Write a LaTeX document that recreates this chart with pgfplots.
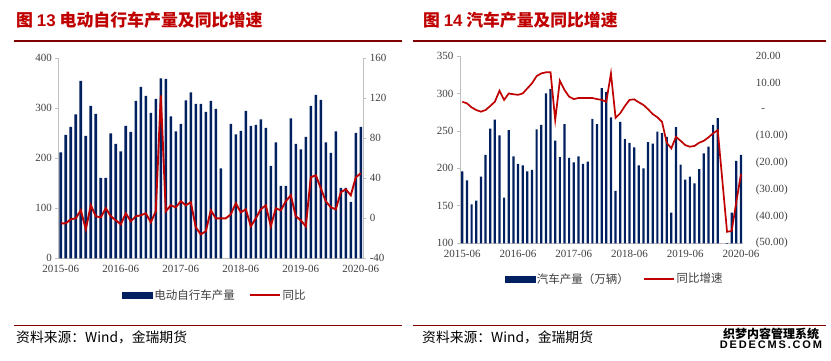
\documentclass[border=0pt]{standalone}
\usepackage{pgfplots}
\pgfplotsset{compat=1.18}
\usepackage{pgfplotstable}
\usepackage{fontspec}
\setmainfont{Liberation Serif}
\newfontfamily\cjk{Noto Sans CJK SC}
\newfontfamily\arial{Liberation Sans}
\definecolor{navy}{HTML}{002060}
\definecolor{lred}{HTML}{C00000}
\definecolor{rulered}{HTML}{800000}
\definecolor{axgray}{HTML}{BFBFBF}
\definecolor{txt}{HTML}{404040}

\pgfplotstableread{
x bar line
1 212 -5
2 247 -5
3 263 -1
4 288 0
5 355 8
6 245 -11
7 305 13
8 289 2
9 161 1
10 161 10
11 250 2
12 229 -2
13 214 -6
14 265 5
15 253 -3
16 315 2
17 343 3
18 325 5
19 291 -4
20 319 7
21 360 123
22 359 7
23 284 13
24 254 11
25 269 17
26 316 13
27 332 16
28 309 -9
29 309 -16
30 293 -13
31 315 8
32 299 0
33 180 0
34 nan 0
35 269 4
36 248 15
37 255 6
38 295 9
39 265 -8
40 267 0
41 278 9
42 261 13
43 185 -8
44 232 10
45 145 8
46 145 17
47 280 23
48 229 2
49 218 -2
50 243 -8
51 305 41
52 327 43
53 317 30
54 232 17
55 211 11
56 254 9
57 141 26
58 141 29
59 113 23
60 251 41
61 263 45
}\ebikedata

\pgfplotstableread{
x bar
1 196
2 184
3 152
4 157
5 189
6 218
7 253
8 265
9 244
10 161
11 251
12 216
13 206
14 204
15 196
16 198
17 252
18 258
19 300
20 306
21 237
22 215
23 259
24 214
25 208
26 216
27 206
28 209
29 266
30 259
31 307
32 302
33 268
34 170
35 262
36 239
37 234
38 228
39 204
40 200
41 235
42 233
43 249
44 247
45 242
46 141
47 255
48 205
49 185
50 189
51 180
52 199
53 220
54 229
55 258
56 267
57 nan
58 29
59 141
60 210
61 218
}\carbar

\pgfplotstableread{
x line
1 2.9
2 2.3
3 0.8
4 -0.2
5 -0.8
6 -0.2
7 1.3
8 2.9
9 7.0
10 3.6
11 6.0
12 5.7
13 5.5
14 6.0
15 7.9
16 9.8
17 12.5
18 13.5
19 13.9
20 13.9
21 -3.9
22 10.8
23 7.3
24 4.8
25 3.9
26 4.3
27 4.3
28 4.3
29 4.3
30 3.9
31 3.6
32 2.9
33 13.5
34 -3.1
35 -1.4
36 1.3
37 3.6
38 3.8
39 2.7
40 1.7
41 0.1
42 -1.7
43 -2.9
44 -4.6
45 -12.4
46 -14.5
47 -10.2
48 -11.7
49 -13.3
50 -13.9
51 -13.6
52 -12.4
53 -11.7
54 -10.4
55 -8.9
56 -7.7
58 -45.7
59 -45.4
60 -34.5
61 -24.1
}\carline

\pgfplotsset{
  panel/.style={
    scale only axis, anchor=south west,
    xmin=0.5, xmax=61.5,
    axis line style={axgray, line width=0.8pt},
    tick style={axgray, line width=0.8pt},
    tick align=outside, major tick length=3pt,
    tick label style={font=\fontsize{11}{12}\selectfont, text=txt},
    xtick={1,13,25,37,49,61},
    xticklabels={2015-06,2016-06,2017-06,2018-06,2019-06,2020-06},
    xtick style={draw=none},
  },
  legimg/.style={legend image code/.code={\draw[##1] (0pt,0pt) -- (30pt,0pt);}},
}

\begin{document}
\begin{tikzpicture}
\useasboundingbox (0pt,0pt) rectangle (831pt,-361pt);
\fill[white] (0pt,0pt) rectangle (831pt,-361pt);

% titles
\node[anchor=west, inner sep=0] at (16pt,-20pt) {\color{lred}\cjk\bfseries\fontsize{16.9}{18}\selectfont 图 {\arial\bfseries 13} 电动自行车产量及同比增速};
\node[anchor=west, inner sep=0] at (423pt,-20pt) {\color{lred}\cjk\bfseries\fontsize{16.8}{18}\selectfont 图 {\arial\bfseries 14} 汽车产量及同比增速};
\draw[rulered, line width=1.1pt] (14pt,-41pt) -- (402pt,-41pt);
\draw[rulered, line width=1.1pt] (413pt,-41pt) -- (826pt,-41pt);
\draw[rulered, line width=1.1pt] (14pt,-325.3pt) -- (402pt,-325.3pt);
\draw[rulered, line width=1.1pt] (413pt,-325.3pt) -- (826pt,-325.3pt);
\node[anchor=west, inner sep=0] at (16pt,-337.5pt) {\cjk\fontsize{13.8}{15}\selectfont 资料来源：Wind，金瑞期货};
\node[anchor=west, inner sep=0] at (422pt,-337.5pt) {\cjk\fontsize{13.8}{15}\selectfont 资料来源：Wind，金瑞期货};
\node[inner sep=0] at (771pt,-333.5pt) {\cjk\bfseries\fontsize{12}{13}\selectfont 织梦内容管理系统};
\node[inner sep=0] at (771pt,-345pt) {\arial\bfseries\fontsize{11}{12}\selectfont D\,E\,D\,E\,C\,M\,S\,.\,C\,O\,M};

% ---------- left panel ----------
\begin{axis}[panel, at={(58.3pt,-258.3pt)}, width=305pt, height=200pt,
  ymin=0, ymax=400, ytick={0,100,200,300,400},
  yticklabels={0,100,200,300,400},
  axis x line*=bottom, axis y line*=left, ybar, bar width=2.6pt]
\addplot[fill=navy, draw=none] table[x=x,y=bar]{\ebikedata};
\end{axis}
\begin{axis}[panel, at={(58.3pt,-258.3pt)}, width=305pt, height=200pt,
  ymin=-40, ymax=160, ytick={-40,0,40,80,120,160},
  yticklabels={-40,0,40,80,120,160},
  axis y line*=right, axis x line=none, legimg,
  legend style={at={(0.5,-0.185)}, anchor=center, xshift=4pt, draw=none, fill=none,
    font=\cjk\fontsize{11.5}{13}\selectfont, text=txt, legend columns=2,
    /tikz/every even column/.append style={column sep=12pt}}]
\addlegendimage{legend image code/.code={\fill[navy] (0pt,-3pt) rectangle (30pt,3pt);}}
\addlegendentry{电动自行车产量}
\addplot[lred, line width=1.9pt] table[x=x,y=line]{\ebikedata};
\addlegendentry{同比}
\end{axis}

% ---------- right panel ----------
\begin{axis}[panel, at={(460pt,-243.3pt)}, width=283.3pt, height=187.3pt,
  ymin=100, ymax=350, ytick={100,150,200,250,300,350},
  yticklabels={100,150,200,250,300,350},
  axis x line*=bottom, axis y line*=left, ybar, bar width=2.2pt]
\addplot[fill=navy, draw=none] table[x=x,y=bar]{\carbar};
\end{axis}
\begin{axis}[panel, at={(460pt,-243.3pt)}, width=283.3pt, height=187.3pt,
  ymin=-50, ymax=20, ytick={-50,-40,-30,-20,-10,0,10,20},
  yticklabels={(50.00),(40.00),(30.00),(20.00),(10.00),\ \ -,10.00,20.00},
  axis y line*=right, axis x line=none, y axis line style={draw=none},
  ytick style={draw=none},
  yticklabel style={anchor=west, xshift=6pt},
  legimg,
  legend style={at={(0.5,-0.19)}, anchor=center, xshift=13pt, draw=none, fill=none,
    font=\cjk\fontsize{11.5}{13}\selectfont, text=txt, legend columns=2,
    /tikz/every even column/.append style={column sep=12pt}}]
\addlegendimage{legend image code/.code={\fill[navy] (0pt,-3pt) rectangle (30pt,3pt);}}
\addlegendentry{汽车产量（万辆）}
\addplot[lred, line width=1.7pt] table[x=x,y=line]{\carline};
\addlegendentry{同比增速}
\end{axis}
\end{tikzpicture}
\end{document}
